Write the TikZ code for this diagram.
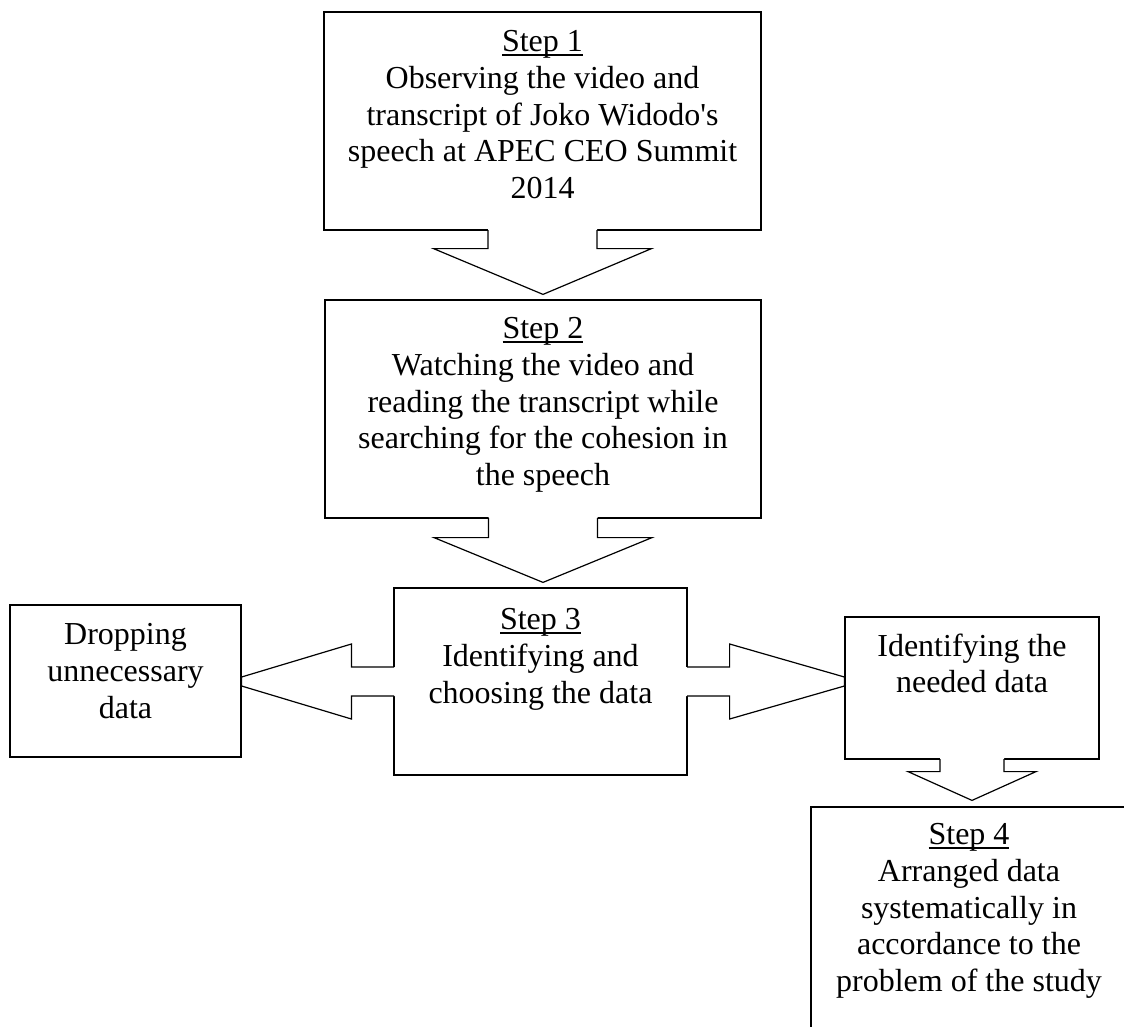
\documentclass[tikz,border=0pt]{standalone}
\usepackage{fontspec}
\setmainfont{Liberation Serif}[Ligatures=TeXOff]
\usetikzlibrary{calc,fit}
\newcommand\stepul[1]{\setbox0\hbox{#1}\rlap{\rule[-3pt]{\wd0}{0.9pt}}\box0}
\begin{document}
\begin{tikzpicture}[x=0.75pt,y=-0.75pt,line width=0.9pt,
  box/.style={draw,fill=white,inner sep=0pt,line join=miter},
  txt/.style={font=\fontsize{24pt}{27.5pt}\selectfont,align=center,inner sep=0pt,anchor=north},
  blk/.style={draw,line join=miter}]
\useasboundingbox (0,0) rectangle (1124,1027);
\clip (0,0) rectangle (1124,1027);
% boxes
\node[box,fit={(324,12) (761,230)}] (s1) {};
\node[box,fit={(325,300) (761,518)}] (s2) {};
\node[box,fit={(394,588) (687,775)}] (s3) {};
\node[box,fit={(10,605) (241,757)}] (drop) {};
\node[box,fit={(845,617) (1099,759)}] (ident) {};
\node[box,fit={(811,807) (1127,1045)}] (s4) {};
% texts
\node[txt] (s1t) at ($(s1.north)+(0,18.5)$) {\stepul{Step 1}\\Observing the video and\\transcript of Joko Widodo's\\speech at APEC CEO Summit\\2014};
\node[txt] (s2t) at ($(s2.north)+(0,17.5)$) {\stepul{Step 2}\\Watching the video and\\reading the transcript while\\searching for the cohesion in\\the speech};
\node[txt] (s3t) at ($(s3.north)+(0,20.5)$) {\stepul{Step 3}\\Identifying and\\choosing the data};
\node[txt] (dropt) at ($(drop.north)+(0,18.5)$) {Dropping\\unnecessary\\data};
\node[txt] (identt) at ($(ident.north)+(0,16.5)$) {Identifying the\\needed data};
\node[txt] (s4t) at ($(s4.north)+(0,16.5)$) {\stepul{Step 4}\\Arranged data\\systematically in\\accordance to the\\problem of the study};
% arrow s1 -> s2
\fill[white] ($(s1.south)+(-54.5,-2)$) -- ($(s1.south)+(-54.5,18)$) -- ($(s1.south)+(-109,18)$) -- ($(s2.north)+(0,-5)$) -- ($(s1.south)+(109,18)$) -- ($(s1.south)+(54.5,18)$) -- ($(s1.south)+(54.5,-2)$) -- cycle;
\draw[blk] ($(s1.south)+(-54.5,-0.6)$) -- ($(s1.south)+(-54.5,18)$) -- ($(s1.south)+(-109,18)$) -- ($(s2.north)+(0,-5)$) -- ($(s1.south)+(109,18)$) -- ($(s1.south)+(54.5,18)$) -- ($(s1.south)+(54.5,-0.6)$);
% arrow s2 -> s3
\fill[white] ($(s2.south)+(-54.5,-2)$) -- ($(s2.south)+(-54.5,19)$) -- ($(s2.south)+(-109,19)$) -- ($(s3.north -| s2.south)+(0,-5)$) -- ($(s2.south)+(109,19)$) -- ($(s2.south)+(54.5,19)$) -- ($(s2.south)+(54.5,-2)$) -- cycle;
\draw[blk] ($(s2.south)+(-54.5,-0.6)$) -- ($(s2.south)+(-54.5,19)$) -- ($(s2.south)+(-109,19)$) -- ($(s3.north -| s2.south)+(0,-5)$) -- ($(s2.south)+(109,19)$) -- ($(s2.south)+(54.5,19)$) -- ($(s2.south)+(54.5,-0.6)$);
% arrow s3 -> drop
\fill[white] ($(s3.west)+(2,-14.5)$) -- ($(s3.west)+(-42,-14.5)$) -- ($(s3.west)+(-42,-37.5)$) -- ($(s3.west -| drop.east)+(0,-4.5)$) -- ($(s3.west -| drop.east)+(0,4.5)$) -- ($(s3.west)+(-42,37.5)$) -- ($(s3.west)+(-42,14.5)$) -- ($(s3.west)+(2,14.5)$) -- cycle;
\draw[blk] ($(s3.west)+(0.6,-14.5)$) -- ($(s3.west)+(-42,-14.5)$) -- ($(s3.west)+(-42,-37.5)$) -- ($(s3.west -| drop.east)+(0,-4.5)$) -- ($(s3.west -| drop.east)+(0,4.5)$) -- ($(s3.west)+(-42,37.5)$) -- ($(s3.west)+(-42,14.5)$) -- ($(s3.west)+(0.6,14.5)$);
% arrow s3 -> ident
\fill[white] ($(s3.east)+(-2,-14.5)$) -- ($(s3.east)+(42,-14.5)$) -- ($(s3.east)+(42,-37.5)$) -- ($(s3.east -| ident.west)+(0,-4.5)$) -- ($(s3.east -| ident.west)+(0,4.5)$) -- ($(s3.east)+(42,37.5)$) -- ($(s3.east)+(42,14.5)$) -- ($(s3.east)+(-2,14.5)$) -- cycle;
\draw[blk] ($(s3.east)+(-0.6,-14.5)$) -- ($(s3.east)+(42,-14.5)$) -- ($(s3.east)+(42,-37.5)$) -- ($(s3.east -| ident.west)+(0,-4.5)$) -- ($(s3.east -| ident.west)+(0,4.5)$) -- ($(s3.east)+(42,37.5)$) -- ($(s3.east)+(42,14.5)$) -- ($(s3.east)+(-0.6,14.5)$);
% arrow ident -> s4
\fill[white] ($(ident.south)+(-32,-2)$) -- ($(ident.south)+(-32,12)$) -- ($(ident.south)+(-64,12)$) -- ($(s4.north -| ident.south)+(0,-6)$) -- ($(ident.south)+(64,12)$) -- ($(ident.south)+(32,12)$) -- ($(ident.south)+(32,-2)$) -- cycle;
\draw[blk] ($(ident.south)+(-32,-0.6)$) -- ($(ident.south)+(-32,12)$) -- ($(ident.south)+(-64,12)$) -- ($(s4.north -| ident.south)+(0,-6)$) -- ($(ident.south)+(64,12)$) -- ($(ident.south)+(32,12)$) -- ($(ident.south)+(32,-0.6)$);
\end{tikzpicture}
\end{document}
